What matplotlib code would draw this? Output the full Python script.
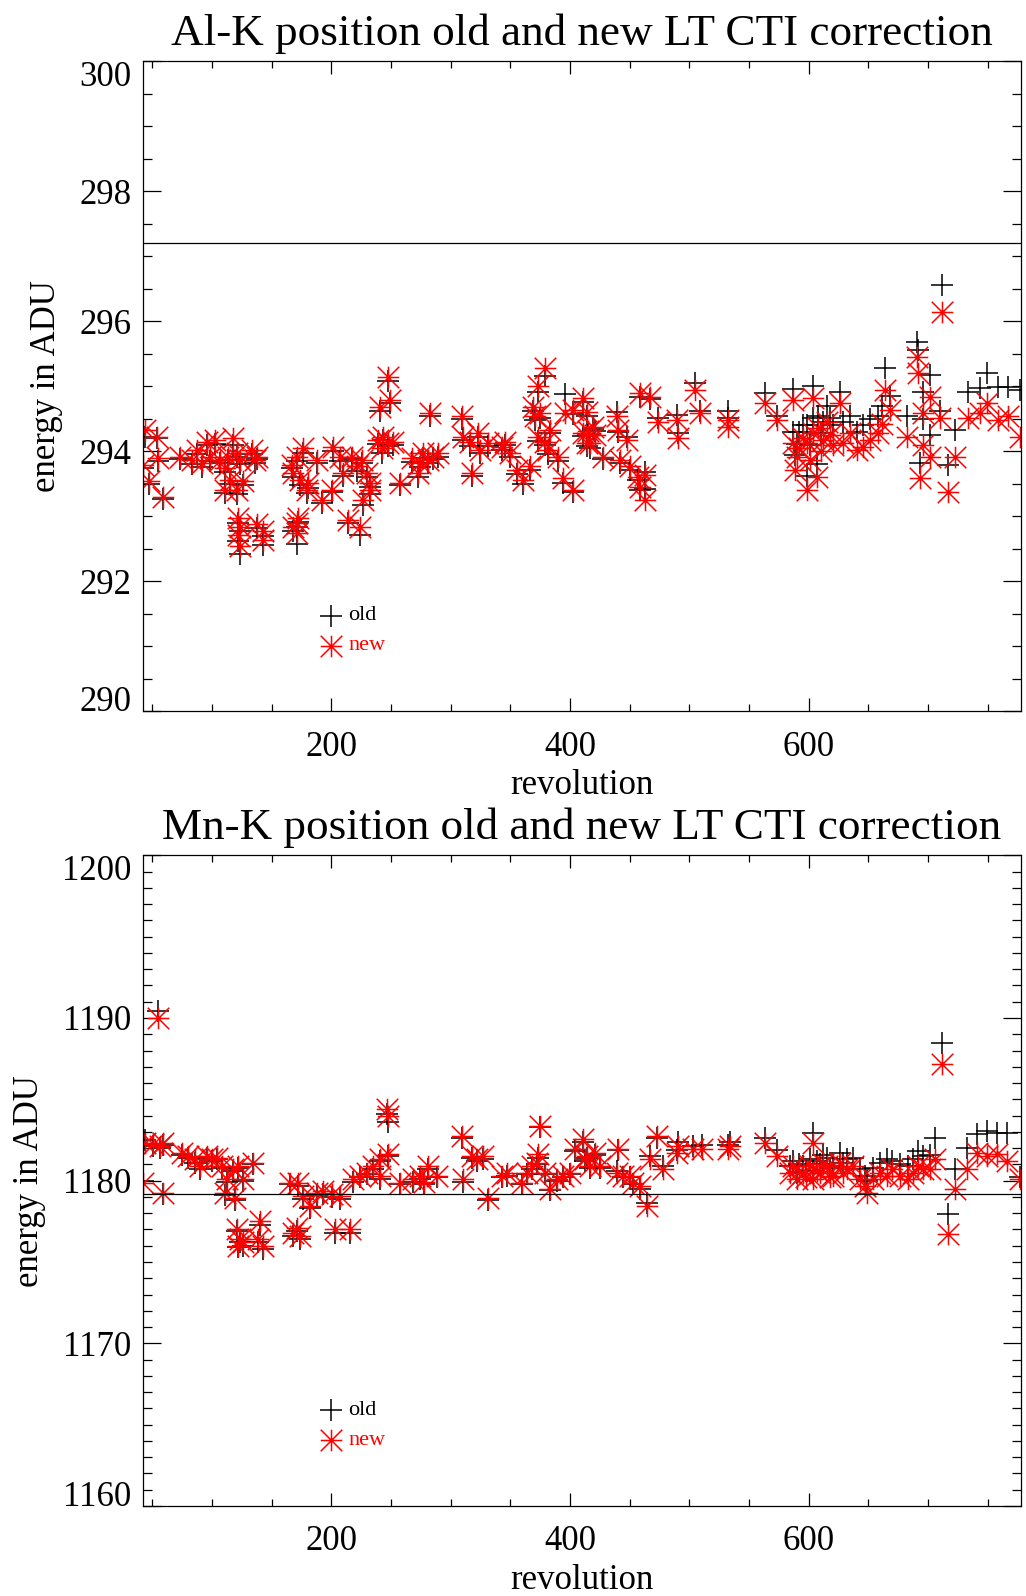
import matplotlib
matplotlib.use("Agg")
import matplotlib.pyplot as plt
from matplotlib.path import Path
from matplotlib.ticker import MultipleLocator

plt.rcParams['font.family'] = ['Liberation Serif', 'DejaVu Serif']

# ---- Al-K panel: revolution, new and old line position (ADU) ----
al_rev = [42.5, 43.9, 47.6, 53.7, 55.1, 58.7, 73.3, 83, 87.2, 91.4,
          95.6, 98.4, 102.6, 106.8, 111, 111, 113.8, 115.2, 118, 120.7,
          120.7, 122.1, 122.1, 123.5, 123.5, 123.5, 126.3, 133.3, 136.1, 137.5,
          137.5, 143.1, 143.1, 166.8, 168.2, 168.2, 171, 171, 171, 172.4,
          173.8, 176.6, 179.4, 180.8, 187.8, 192, 200.3, 201.7, 207.3, 210.1,
          214.3, 217.1, 221.3, 224.1, 225.5, 226.9, 229.7, 232.4, 232.4, 239.4,
          240.8, 242.2, 243.6, 247.8, 247.8, 249.2, 252, 257.6, 267.4, 273,
          274.3, 277.1, 281.3, 282.7, 285.5, 289.7, 309.3, 310.6, 316.2, 317.6,
          323.2, 324.6, 331.6, 342.8, 345.6, 349.7, 355.3, 360.9, 366.5, 369.3,
          370.7, 373.5, 373.5, 374.9, 379.1, 379.1, 381.9, 383.3, 390.3, 394.5,
          395.9, 402.8, 402.8, 411.2, 411.2, 414, 414, 415.4, 416.8, 419.6,
          421, 428, 439.1, 440.5, 441.9, 447.5, 450.3, 457.3, 458.7, 458.7,
          462.9, 462.9, 467.1, 474, 489.4, 490.8, 504.8, 508.9, 532.7, 532.7,
          563.4, 573.2, 587.1, 587.1, 588.5, 590, 592, 595, 598.3, 598.3,
          601.1, 603.9, 603.9, 606.7, 608.1, 610, 612.3, 615, 618, 620,
          626.2, 629, 634.6, 640.2, 645.8, 651.4, 658.4, 661.2, 664, 668.1,
          682.1, 690.5, 691.9, 693.3, 696.1, 696.1, 701.6, 701.6, 710, 711.4,
          717, 722.6, 733.8, 743.6, 749.1, 758.9, 767.3, 777]
al_new = [293.79, 294.33, 293.54, 294.23, 293.90, 293.30, 293.92, 293.87, 294.02, 293.82,
          294.15, 293.92, 294.18, 293.87, 293.74, 293.41, 293.92, 293.56, 294.20, 293.97,
          293.41, 292.97, 292.72, 293.87, 292.84, 292.54, 293.54, 294.02, 293.87, 293.92,
          292.89, 292.77, 292.64, 293.79, 293.67, 292.84, 293.92, 292.90, 292.74, 292.97,
          293.56, 294.05, 293.41, 293.51, 293.87, 293.25, 293.41, 294.07, 293.92, 293.67,
          292.95, 293.92, 293.77, 292.84, 293.87, 293.25, 293.67, 293.51, 293.41, 294.18,
          294.69, 294.05, 294.23, 295.15, 294.13, 294.79, 294.15, 293.51, 293.90, 293.67,
          293.82, 293.97, 293.87, 294.59, 293.92, 293.97, 294.54, 294.23, 294.15, 293.67,
          294.28, 294.02, 294.13, 294.07, 294.15, 293.97, 293.72, 293.56, 293.77, 294.69,
          294.54, 295.00, 294.23, 294.59, 295.28, 294.15, 294.02, 294.33, 293.92, 293.59,
          294.59, 294.64, 293.41, 294.82, 294.28, 294.13, 294.61, 294.31, 294.13, 294.38,
          294.25, 293.92, 294.54, 294.33, 293.87, 294.18, 293.77, 293.61, 294.90, 293.46,
          293.64, 293.25, 294.84, 294.46, 294.49, 294.20, 294.95, 294.59, 294.49, 294.38,
          294.74, 294.49, 294.79, 294.13, 293.72, 293.92, 294.05, 294.20, 294.13, 293.41,
          293.87, 294.82, 294.28, 293.61, 294.36, 294.00, 294.18, 294.45, 294.25, 294.10,
          294.74, 294.13, 294.28, 294.02, 294.07, 294.18, 294.28, 294.43, 294.95, 294.64,
          294.23, 295.46, 295.20, 293.59, 294.59, 294.10, 294.84, 293.92, 294.51, 296.15,
          293.38, 293.92, 294.51, 294.59, 294.74, 294.49, 294.54, 294.23]
al_old = [293.74, 294.22, 293.50, 294.20, 293.86, 293.27, 293.88, 293.80, 293.96, 293.76,
          294.10, 293.86, 294.12, 293.82, 293.68, 293.36, 293.87, 293.50, 294.10, 293.92,
          293.35, 292.90, 292.62, 293.80, 292.78, 292.42, 293.48, 293.96, 293.82, 293.88,
          292.82, 292.70, 292.56, 293.74, 293.60, 292.78, 293.86, 292.84, 292.58, 292.92,
          293.48, 293.98, 293.36, 293.44, 293.82, 293.20, 293.38, 294.00, 293.86, 293.62,
          292.90, 293.88, 293.70, 292.72, 293.82, 293.18, 293.60, 293.45, 293.34, 294.12,
          294.62, 293.98, 294.18, 295.08, 294.08, 294.74, 294.10, 293.48, 293.84, 293.60,
          293.76, 293.90, 293.82, 294.54, 293.88, 293.92, 294.50, 294.18, 294.08, 293.62,
          294.22, 293.98, 294.08, 294.02, 294.10, 293.92, 293.66, 293.50, 293.72, 294.62,
          294.48, 294.92, 294.16, 294.52, 295.16, 294.10, 293.96, 294.28, 293.86, 293.52,
          294.88, 294.58, 293.38, 294.76, 294.24, 294.08, 294.55, 294.26, 294.06, 294.34,
          294.32, 293.88, 294.60, 294.30, 293.82, 294.22, 293.72, 293.56, 294.84, 293.40,
          293.68, 293.42, 294.80, 294.52, 294.56, 294.28, 295.05, 294.62, 294.62, 294.52,
          294.90, 294.55, 294.96, 294.30, 293.95, 294.12, 294.30, 294.40, 294.40, 293.62,
          294.10, 295.00, 294.52, 293.80, 294.55, 294.28, 294.45, 294.70, 294.52, 294.40,
          294.92, 294.45, 294.55, 294.30, 294.40, 294.50, 294.55, 294.70, 295.28, 294.85,
          294.55, 295.69, 295.56, 293.82, 294.92, 294.50, 295.18, 294.25, 294.62, 296.56,
          293.79, 294.33, 294.92, 294.97, 295.20, 294.99, 294.99, 294.95]

# ---- Mn-K panel ----
mn_rev = [42.5, 43.9, 50.9, 55.1, 56.5, 59.3, 59.3, 74.7, 80.2, 85.8,
          90, 95.6, 99.8, 104, 108.2, 111, 112.4, 118, 119.3, 120.7,
          122.1, 122.1, 123.5, 126.3, 126.3, 134.7, 138.9, 140.3, 143.1, 165.4,
          168.2, 171, 172.4, 173.8, 176.6, 182.2, 187.8, 193.4, 200.3, 203.1,
          207.3, 215.7, 218.5, 224.1, 229.7, 235.2, 240.8, 240.8, 246.4, 247.8,
          247.8, 257.6, 268.8, 274.3, 278, 281.3, 288.3, 309.3, 310.6, 317.6,
          321.8, 327.4, 331.6, 342.8, 347, 359.5, 363.7, 368, 372.1, 373.5,
          374.9, 379.1, 383.3, 388.9, 394.5, 400.0, 404.2, 411.2, 412.6, 414,
          416.8, 421, 425.2, 439.1, 440.5, 444.7, 450.3, 453.1, 458.7, 464.3,
          467.1, 472.6, 478.2, 489.4, 490.8, 503.4, 510.3, 532.7, 534.1, 563.4,
          573.2, 584.4, 587.1, 590, 592, 595.5, 598, 601.1, 603.9, 603.9,
          607, 609.5, 612, 615.1, 618, 620.7, 626.2, 629, 631.8, 637.4,
          643, 647.2, 648.6, 654.2, 659.8, 665.4, 669.5, 676.5, 683.5, 687.7,
          691.9, 696.1, 701.6, 705.8, 711.4, 717, 722.6, 732.4, 740.8, 749.1,
          757.5, 765.9, 777]
mn_new = [1179.88, 1182.33, 1182.23, 1190.00, 1182.13, 1182.33, 1179.26, 1181.72, 1181.51, 1181.31,
          1180.90, 1181.51, 1181.31, 1181.41, 1180.90, 1179.26, 1180.08, 1180.70, 1178.96, 1177.00,
          1180.90, 1176.00, 1176.40, 1180.08, 1176.20, 1181.10, 1176.40, 1177.50, 1176.00, 1179.88,
          1176.80, 1177.10, 1179.88, 1176.60, 1179.06, 1178.44, 1179.26, 1179.36, 1179.16, 1177.00,
          1179.06, 1177.00, 1180.08, 1180.29, 1180.49, 1180.90, 1181.31, 1180.29, 1184.38, 1183.97,
          1181.61, 1179.88, 1180.08, 1180.29, 1179.90, 1180.90, 1180.29, 1182.74, 1180.08, 1181.51,
          1181.31, 1181.51, 1178.96, 1180.29, 1180.49, 1179.88, 1180.49, 1180.90, 1181.10, 1181.61,
          1183.35, 1180.49, 1179.47, 1180.08, 1180.29, 1180.49, 1181.92, 1182.53, 1181.31, 1181.51,
          1180.90, 1181.72, 1180.90, 1180.49, 1181.92, 1180.29, 1180.29, 1179.88, 1179.67, 1178.44,
          1181.31, 1182.74, 1180.70, 1181.72, 1182.13, 1181.92, 1181.92, 1181.92, 1182.13, 1182.33,
          1181.51, 1180.49, 1180.90, 1180.08, 1180.60, 1180.49, 1180.20, 1180.90, 1182.33, 1180.08,
          1180.60, 1180.49, 1181.00, 1180.90, 1180.20, 1180.29, 1181.10, 1180.50, 1180.70, 1180.90,
          1180.08, 1179.67, 1179.26, 1180.08, 1180.49, 1180.29, 1180.70, 1180.29, 1180.08, 1180.49,
          1180.90, 1180.70, 1180.70, 1181.31, 1187.14, 1176.70, 1179.47, 1180.70, 1181.72, 1181.51,
          1181.61, 1181.20, 1180.08]
mn_old = [1180.00, 1182.50, 1182.10, 1190.40, 1182.00, 1182.20, 1179.20, 1181.60, 1181.40, 1181.10,
          1180.70, 1181.40, 1181.20, 1181.30, 1180.80, 1179.10, 1179.90, 1180.60, 1178.80, 1176.90,
          1180.80, 1175.90, 1176.20, 1180.00, 1176.00, 1181.00, 1176.20, 1177.30, 1175.80, 1179.80,
          1176.60, 1176.90, 1179.70, 1176.40, 1178.90, 1178.30, 1179.10, 1179.20, 1179.00, 1176.80,
          1178.90, 1176.80, 1179.90, 1180.20, 1180.40, 1180.70, 1181.20, 1180.10, 1184.10, 1183.60,
          1181.50, 1179.80, 1179.90, 1180.10, 1179.80, 1180.70, 1180.20, 1182.60, 1179.90, 1181.40,
          1181.20, 1181.30, 1178.80, 1180.20, 1180.30, 1179.80, 1180.40, 1180.70, 1181.00, 1181.40,
          1183.30, 1180.40, 1179.40, 1180.00, 1180.20, 1180.40, 1181.80, 1182.40, 1181.20, 1181.40,
          1180.80, 1181.60, 1180.80, 1180.60, 1181.90, 1180.20, 1180.20, 1179.80, 1179.50, 1178.60,
          1181.50, 1182.60, 1180.90, 1181.90, 1182.40, 1182.10, 1182.20, 1182.20, 1182.40, 1182.60,
          1181.90, 1180.90, 1181.20, 1180.50, 1181.00, 1180.90, 1180.60, 1181.30, 1182.94, 1180.60,
          1181.20, 1181.00, 1181.60, 1181.40, 1180.80, 1180.90, 1181.70, 1181.10, 1181.30, 1181.40,
          1180.70, 1180.30, 1180.00, 1180.80, 1181.10, 1181.31, 1181.20, 1181.00, 1180.90, 1181.30,
          1181.82, 1181.50, 1181.60, 1182.64, 1188.47, 1177.93, 1180.70, 1182.02, 1182.84, 1183.05,
          1182.94, 1182.94, 1180.20]

al_ref = 297.2     # horizontal reference line
mn_ref = 1179.2

xlims = (42, 778)
x_ticks = [200, 400, 600]
al_yticks = [290, 292, 294, 296, 298, 300]
mn_yticks = [1160, 1170, 1180, 1190, 1200]

# IDL style asterisk: plus and a cross reaching the box corners
star = Path([(-1, 0), (1, 0), (0, -1), (0, 1), (-1, -1), (1, 1), (-1, 1), (1, -1)],
            [Path.MOVETO, Path.LINETO] * 4)


def panel(ax, rev, old, new, ref, yticks, yminor, title):
    ax.plot(rev, old, ls='none', marker='+', ms=15.5, mew=1.1, color='black')
    ax.plot(rev, new, ls='none', marker=star, ms=15.5, mew=1.1, color='red')
    ax.axhline(ref, color='black', lw=0.9)

    ax.set_xlim(*xlims)
    ax.set_ylim(yticks[0], yticks[-1])
    ax.set_xticks(x_ticks)
    ax.set_yticks(yticks)
    ax.xaxis.set_minor_locator(MultipleLocator(50))
    ax.yaxis.set_minor_locator(MultipleLocator(yminor))

    ax.tick_params(which='both', direction='in', top=True, right=True, width=0.9)
    ax.tick_params(axis='x', which='major', length=9.4, pad=14, labelsize=25)
    ax.tick_params(axis='x', which='minor', length=4.7)
    ax.tick_params(axis='y', which='major', length=12.7, pad=8, labelsize=25)
    ax.tick_params(axis='y', which='minor', length=6.3)
    for s in ax.spines.values():
        s.set_linewidth(0.9)

    labs = ax.get_yticklabels()
    labs[0].set_va('baseline')
    labs[-1].set_va('top')

    ax.set_title(title, fontsize=32.5, pad=11.5)
    ax.set_xlabel('revolution', fontsize=25, labelpad=4)
    ax.set_ylabel('energy in ADU', fontsize=25, labelpad=12)

    # IDL style legend inside the plot
    ax.plot([0.2144], [0.147], transform=ax.transAxes, marker='+', ms=15.5,
            mew=1.1, color='black', clip_on=False)
    ax.text(0.2337, 0.147, 'old', transform=ax.transAxes, fontsize=16,
            va='center', ha='left', color='black')
    ax.plot([0.2144], [0.101], transform=ax.transAxes, marker=star, ms=15.5,
            mew=1.1, color='red', clip_on=False)
    ax.text(0.2337, 0.101, 'new', transform=ax.transAxes, fontsize=16,
            va='center', ha='left', color='red')


fig = plt.figure(figsize=(10.26, 15.96), dpi=100)
ax1 = fig.add_axes([0.1391, 0.5542, 0.8561, 0.4073])
ax2 = fig.add_axes([0.1391, 0.0564, 0.8561, 0.4077])

panel(ax1, al_rev, al_old, al_new, al_ref, al_yticks, 0.5,
      'Al-K position old and new LT CTI correction')
panel(ax2, mn_rev, mn_old, mn_new, mn_ref, mn_yticks, 1,
      'Mn-K position old and new LT CTI correction')

fig.savefig('out.png', dpi=100)
